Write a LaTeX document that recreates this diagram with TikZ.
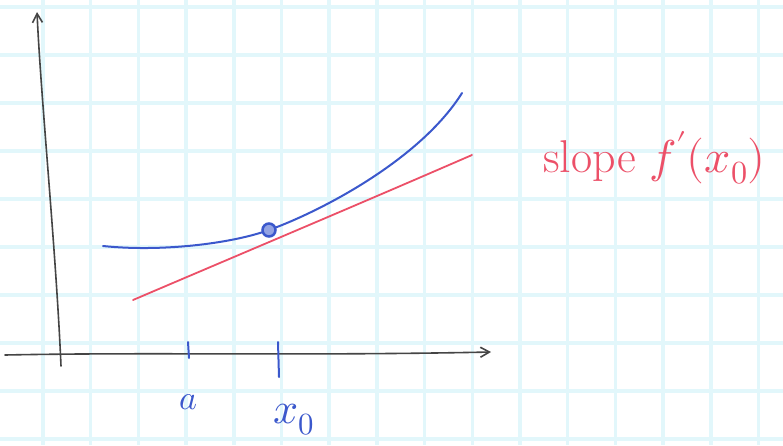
\documentclass[tikz,border=0pt]{standalone}
\usepackage{fontspec}
\usepackage{unicode-math}
\setmathfont{Latin Modern Math}
\usetikzlibrary{arrows.meta}
\definecolor{gridc}{HTML}{E2F7FB}
\definecolor{penblue}{HTML}{3B58CC}
\definecolor{penred}{HTML}{EC5068}
\definecolor{pengray}{HTML}{454545}
\tikzset{
  gridline/.style={gridc, line width=3.5pt},
  axisline/.style={pengray, line width=1.6pt, line cap=round, -{Straight Barb[length=9pt,width=10pt]}},
  bluepen/.style={penblue, line width=2pt, line cap=round},
  redpen/.style={penred, line width=1.8pt, line cap=round},
  lbl/.style={inner sep=0pt}
}
\begin{document}
\begin{tikzpicture}[x=1pt,y=-1pt]
\useasboundingbox (0,0) rectangle (783,445);
\fill[white] (0,0) rectangle (783,445);
\begin{scope}
\clip (0,0) rectangle (783,445);
\foreach \i in {0,...,16} \draw[gridline] ({43+47.7*\i},0) -- ++(0,445);
\foreach \k in {0,...,9} \draw[gridline] (0,{7+48*\k}) -- ++(783,0);
\end{scope}
% axes
\coordinate (ybot) at (61,366);
\coordinate (ytop) at (37,12);
\coordinate (xl) at (5,355);
\coordinate (xr) at (491,352);
\draw[axisline] (ybot) .. controls (56,250) and (41,100) .. (ytop);
\draw[axisline] (xl) .. controls (150,352) and (300,356) .. (xr);
% ticks
\coordinate (ta1) at (188,342);
\coordinate (ta2) at (189,358);
\coordinate (tx1) at (278,342);
\coordinate (tx2) at (279,377);
\draw[bluepen] (ta1) -- (ta2);
\draw[bluepen] (tx1) -- (tx2);
% red tangent
\coordinate (r1) at (133,300);
\coordinate (r2) at (472,155);
\draw[redpen] (r1) .. controls (250,250) and (350,208) .. (r2);
% blue curve
\coordinate (b1) at (103,246);
\coordinate (pt) at (269,230);
\coordinate (b2) at (462,93);
\draw[bluepen] (b1) .. controls (160,252) and (230,244) .. (pt)
                    .. controls (320,211.7) and (420,160) .. (b2);
\node[circle, draw=penblue, line width=2.5pt, minimum size=13pt, inner sep=0pt, fill=penblue!55] (dot) at (pt) {};
% labels
\node[lbl, text=penblue, font=\fontsize{34}{38}\selectfont] (la) at (188,402) {$a$};
\node[lbl, text=penblue, font=\fontsize{44}{48}\selectfont] (lx) at (294,420) {$x_0$};
\node[lbl, text=penred, anchor=west, font=\fontsize{46}{52}\selectfont] (slope) at (543,158) {slope $f'(x_0)$};
\end{tikzpicture}
\end{document}
